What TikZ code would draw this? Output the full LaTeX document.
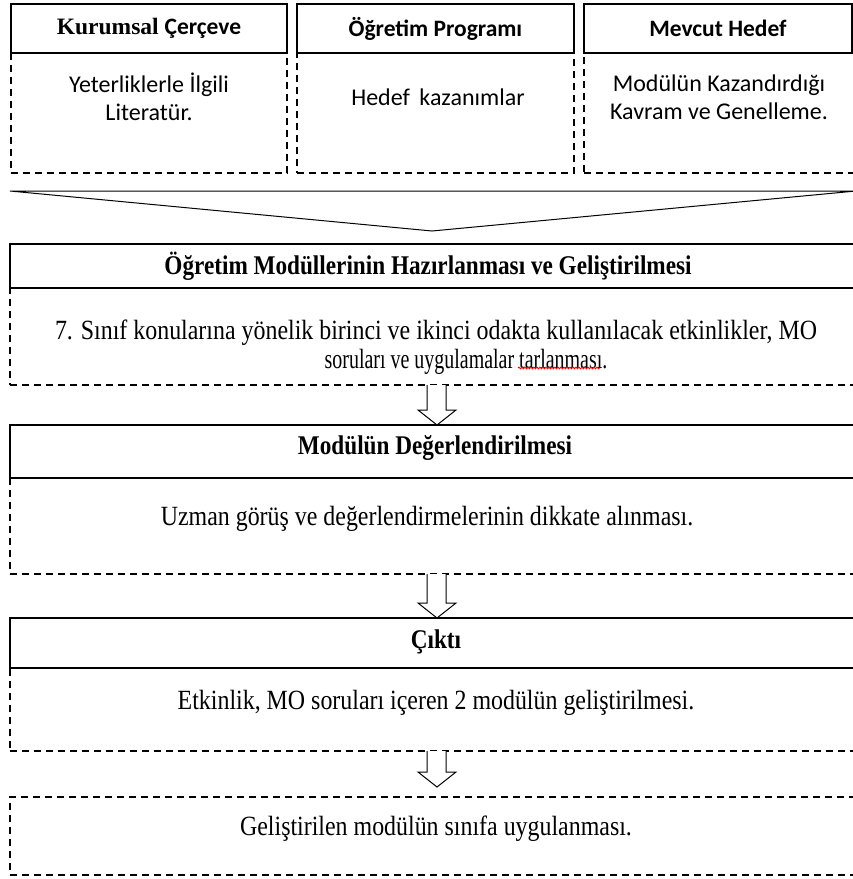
\documentclass[tikz,border=0pt]{standalone}
\usepackage{fontspec}
\setmainfont{Liberation Serif}
\newfontfamily\narrowserif[FakeStretch=0.86]{Liberation Serif}
\newfontfamily\calfont{Carlito}
\usetikzlibrary{calc,decorations.pathmorphing}

\tikzset{
  headbox/.style={draw, line width=2pt, rectangle, anchor=north west, inner sep=0pt, outer sep=0pt},
  bodybox/.style={draw, line width=2pt, dash pattern=on 7pt off 5pt, rectangle, anchor=north west, inner sep=0pt, outer sep=0pt},
  toptitle/.style={font=\calfont\bfseries\fontsize{23.5}{28}\selectfont},
  toptext/.style={font=\calfont\fontsize{24}{28}\selectfont, align=center},
  sectitle/.style={font=\narrowserif\bfseries\fontsize{27}{30}\selectfont},
  sectext/.style={font=\narrowserif\fontsize{27.8}{29}\selectfont, align=center},
  blockarrow/.style={draw, line width=1pt, fill=white, line join=miter}
}

% hollow block arrow from the bottom of one box to the top of the next
\newcommand{\hollowarrow}[2]{%
  \draw[blockarrow] let \p1=(#1.south), \p2=(#2.north) in
    (427pt,\y1) -- (427pt,\y2+15pt) -- (418pt,\y2+15pt) -- (437pt,\y2)
    -- (456pt,\y2+15pt) -- (446pt,\y2+15pt) -- (446pt,\y1);}

\begin{document}
\begin{tikzpicture}[x=1pt,y=-1pt]
\useasboundingbox (0,0) rectangle (853,879);
\clip (0,0) rectangle (853,879);

% three source boxes along the top
\node[bodybox, minimum width=276pt, minimum height=120pt] (b1) at (11,53) {};
\node[bodybox, minimum width=277pt, minimum height=120pt] (b2) at (297,53) {};
\node[bodybox, minimum width=280pt, minimum height=120pt] (b3) at (584,53) {};
\node[headbox, fill=white, minimum width=276pt, minimum height=49pt] (h1) at (11,4) {};
\node[headbox, fill=white, minimum width=277pt, minimum height=49pt] (h2) at (297,4) {};
\node[headbox, fill=white, minimum width=268pt, minimum height=49pt] (h3) at (584,4) {};

\node[font=\bfseries\fontsize{23.5}{28}\selectfont] (h1t) at (149,28) {Kurumsal {\calfont Çerçeve}};
\node[toptitle] (h2t) at (h2.center) {Öğretim Programı};
\node[toptitle] (h3t) at (h3.center) {Mevcut Hedef};

\node[toptext] (b1t) at (149,97) {Yeterliklerle İlgili\\Literatür.};
\node[toptext] (b2t) at (438,97) {Hedef\hspace{0.4em}kazanımlar};
\node[toptext] (b3t) at (719,97) {Modülün Kazandırdığı\\Kavram ve Genelleme.};

% merging funnel
\coordinate (fl) at (10,191);
\coordinate (fr) at (856,191);
\coordinate (fa) at (432,231);
\draw[line width=1pt, line join=miter] (fl) -- (fr) -- (fa) -- cycle;

% section: preparation of the modules
\node[bodybox, minimum width=870pt, minimum height=97pt] (s1b) at (10,288) {};
\node[headbox, fill=white, minimum width=870pt, minimum height=44pt] (s1h) at (10,244) {};
\node[sectitle] (s1ht) at (428,266) {Öğretim Modüllerinin Hazırlanması ve Geliştirilmesi};
\node[sectext] (s1t) at (436,347) {7. Sınıf konularına yönelik birinci ve ikinci odakta kullanılacak etkinlikler, MO\\\hspace*{60pt}\scalebox{0.835}[1]{soruları ve uygulamalar tarlanması.}};
\draw[red, line width=0.8pt, decorate, decoration={snake, amplitude=0.9pt, segment length=3pt}] (518,368) -- (600,368);

% section: evaluation of the module
\node[bodybox, minimum width=870pt, minimum height=96pt] (s2b) at (10,478) {};
\node[headbox, fill=white, minimum width=870pt, minimum height=53pt] (s2h) at (10,425) {};
\node[sectitle] (s2ht) at (435,448) {Modülün Değerlendirilmesi};
\node[sectext] (s2t) at (427,519) {Uzman görüş ve değerlendirmelerinin dikkate alınması.};

% section: output
\node[bodybox, minimum width=870pt, minimum height=83pt] (s3b) at (10,668) {};
\node[headbox, fill=white, minimum width=870pt, minimum height=50pt] (s3h) at (10,618) {};
\node[sectitle] (s3ht) at (436,642) {Çıktı};
\node[sectext] (s3t) at (436,703) {Etkinlik, MO soruları içeren 2 modülün geliştirilmesi.};

% final step
\node[bodybox, minimum width=870pt, minimum height=78pt] (s4b) at (10,797) {};
\node[sectext] (s4t) at (436,829) {Geliştirilen modülün sınıfa uygulanması.};

% hollow block arrows between the sections
\hollowarrow{s1b}{s2h}
\hollowarrow{s2b}{s3h}
\coordinate (endtip) at (437,787);
\hollowarrow{s3b}{endtip}
\end{tikzpicture}
\end{document}
